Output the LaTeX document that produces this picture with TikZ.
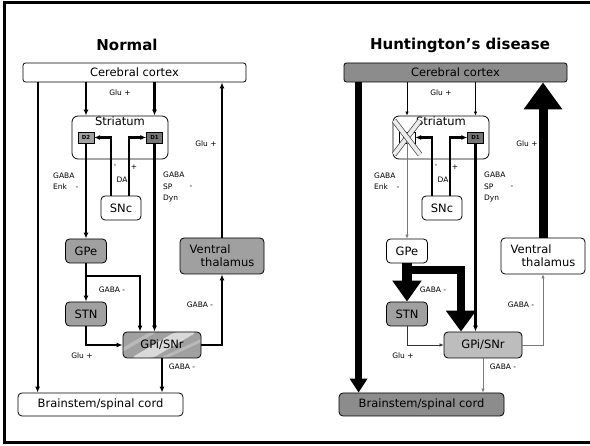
\documentclass[tikz,border=0pt]{standalone}
\usepackage{fontspec}
\setmainfont{DejaVu Sans}
\usetikzlibrary{arrows.meta}
\definecolor{cellgray}{HTML}{A0A0A0}
\definecolor{dOne}{HTML}{747474}
\definecolor{bandgray}{HTML}{8C8C8C}
\definecolor{gpilight}{HTML}{BDBDBD}
\definecolor{wiregray}{HTML}{7A7A7A}
\tikzset{
  cell/.style={draw,thick,rounded corners=4pt,inner sep=0pt,font=\fontsize{11.5}{13}\selectfont},
  band/.style={cell,rounded corners=2.5pt,minimum width=223pt,minimum height=19pt},
  unit/.style={cell,minimum width=41pt,minimum height=24pt},
  rcpt/.style={draw,thin,minimum width=16pt,minimum height=11pt,inner sep=0pt,font=\fontsize{5.5}{6}\selectfont\bfseries},
  tag/.style={font=\fontsize{7.5}{11.5}\selectfont,inner sep=0pt,align=left},
  title/.style={font=\fontsize{15}{18}\selectfont\bfseries},
  stripes/.style={fill=cellgray,path picture={
    \fill[gray!55] ([xshift=-18pt]path picture bounding box.south west) -- ++(7,0)
      -- ([xshift=-44pt]path picture bounding box.north east) -- ++(-7,0) -- cycle;
    \fill[gray!30] ([xshift=8pt]path picture bounding box.south west) -- ++(22,0)
      -- ([xshift=-4pt]path picture bounding box.north east) -- ++(-22,0) -- cycle;
    \fill[gray!55] ([xshift=37pt]path picture bounding box.south west) -- ++(7,0)
      -- ([xshift=22pt]path picture bounding box.north east) -- ++(-7,0) -- cycle;}},
  wire/.style={-{Latex[length=6pt,width=5pt]},line width=2.1pt},
  thinwire/.style={-{Latex[length=4pt,width=3.5pt]},line width=0.7pt,draw=wiregray},
  heavy/.style n args={3}{line width=#1,-{Triangle[length=#2,width=#3]}},
  xmark/.style={line width=0.7pt,draw=black!75,double=white!85!gray,double distance=4pt},
}
% prefix, cortex, D2, GPe, STN, GPi, thalamus, brainstem
\newcommand{\circuit}[8]{%
  \node[band,fill=#2] (#1ctx) at (134.5,72.5) {Cerebral cortex};
  \node[cell,minimum width=96pt,minimum height=43pt,rounded corners=6pt,
        label={[anchor=north,inner sep=1pt,font=\fontsize{11.5}{13}\selectfont]north:Striatum}] (#1str) at (120,137.5) {};
  \node[rcpt,fill=#3] (#1d2) at (86,137.5) {D2};
  \node[rcpt,fill=dOne] (#1d1) at (154.5,137.5) {D1};
  \node[unit,minimum width=40pt] (#1snc) at (121,208) {SNc};
  \node[unit,fill=#4] (#1gpe) at (86,251) {GPe};
  \node[unit,fill=#5] (#1stn) at (86,314) {STN};
  \node[unit,minimum width=78pt,minimum height=26pt,#6] (#1gpi) at (162,345) {GPi/SNr};
  \node[unit,minimum width=84pt,minimum height=36pt,align=left,fill=#7] (#1vt) at (222,256) {Ventral\\\hspace*{11pt}thalamus};
  \node[unit,minimum width=165pt,minimum height=23pt,fill=#8] (#1bs) at (100.5,404.5) {Brainstem/spinal cord};}
\newcommand{\tags}[1]{%
  \node[tag] (#1glua) at (120,93) {Glu +};
  \node[tag] (#1glub) at (206,144) {Glu +};
  \node[tag] (#1minus) at (115,166) {-};
  \node[tag] (#1plus) at (134,167) {+};
  \node[tag] (#1da) at (122,180) {DA};
  \node[tag,anchor=west] (#1enk) at (53,181) {GABA\\Enk};
  \node[tag] (#1enks) at (77,188) {-};
  \node[tag,anchor=west] (#1dyn) at (163,187) {GABA\\SP\\Dyn};
  \node[tag] (#1dyns) at (191,187) {-};
  \node[tag] (#1gabaa) at (112,290) {GABA -};
  \node[tag] (#1gabab) at (200,305) {GABA -};
  \node[tag] (#1glus) at (82,356) {Glu +};
  \node[tag] (#1gabac) at (182,367) {GABA -};}

\begin{document}
\begin{tikzpicture}[x=1pt,y=-1pt]
  \useasboundingbox (0,0) rectangle (590,446);
  \draw[line width=3pt] (4,3) rectangle (600,443);

  % normal
  \node[title] (ntitle) at (127,45) {Normal};
  \circuit{n}{white}{cellgray}{cellgray}{cellgray}{stripes}{cellgray}{white}
  \tags{n}
  \draw[wire] ([xshift=15pt]nctx.south west) -- ([xshift=15pt]nctx.south west |- nbs.north);
  \draw[wire] (nctx.south -| nd2) -- (nstr.north -| nd2);
  \draw[wire] (nctx.south -| nd1) -- (nstr.north -| nd1);
  \draw[wire] ([xshift=-10pt]nsnc.north) |- (nd2.east);
  \draw[wire] ([xshift=8pt]nsnc.north) |- (nd1.west);
  \draw[wire] (nd2.south) -- (ngpe.north);
  \draw[wire] (nd1.south) -- (nd1.south |- ngpi.north);
  \draw[wire] (ngpe.south) -- (nstn.north);
  \draw[wire] ([yshift=-13pt]ngpe.south) -| ([xshift=-22pt]ngpi.north);
  \draw[wire] (nstn.south) |- (ngpi.west);
  \draw[wire] (ngpi.east) -| (nvt.south);
  \draw[wire] (nvt.north) -- (nvt.north |- nctx.south);
  \draw[wire] (ngpi.south) -- (ngpi.south |- nbs.north);

  % huntington
  \begin{scope}[xshift=321pt]
    \node[title] (htitle) at (139,45) {Huntington’s disease};
    \circuit{h}{bandgray}{white}{white}{cellgray}{fill=gpilight}{white}{bandgray}
    \tags{h}
  \end{scope}
  \draw[xmark] ([shift={(-13pt,-17pt)}]hd2.center) -- ([shift={(13pt,17pt)}]hd2.center);
  \draw[xmark] ([shift={(-13pt,17pt)}]hd2.center) -- ([shift={(13pt,-17pt)}]hd2.center);
  \draw[heavy={7pt}{14pt}{17pt}] ([xshift=15pt]hctx.south west) -- ([xshift=15pt]hctx.south west |- hbs.north);
  \draw[thinwire,draw=black,line width=1pt] (hctx.south -| hd2) -- (hstr.north -| hd2);
  \draw[thinwire,draw=black,line width=1pt] (hctx.south -| hd1) -- (hstr.north -| hd1);
  \draw[wire] ([xshift=-10pt]hsnc.north) |- (hd2.east);
  \draw[wire] ([xshift=8pt]hsnc.north) |- (hd1.west);
  \draw[thinwire] (hd2.south) -- (hgpe.north);
  \draw[wire] (hd1.south) -- (hd1.south |- hgpi.north);
  \draw[heavy={9.5pt}{21pt}{28pt}] (hgpe.south) -- (hstn.north);
  \draw[heavy={8pt}{21pt}{29pt}] ([yshift=-7pt]hgpe.south) -| ([xshift=-22pt]hgpi.north);
  \draw[thinwire,draw=black!80] (hstn.south) |- (hgpi.west);
  \draw[thinwire] (hgpi.east) -| (hvt.south);
  \draw[heavy={9pt}{27pt}{37pt}] (hvt.north) -- (hvt.north |- hctx.south);
  \draw[thinwire] (hgpi.south) -- (hgpi.south |- hbs.north);
\end{tikzpicture}
\end{document}
